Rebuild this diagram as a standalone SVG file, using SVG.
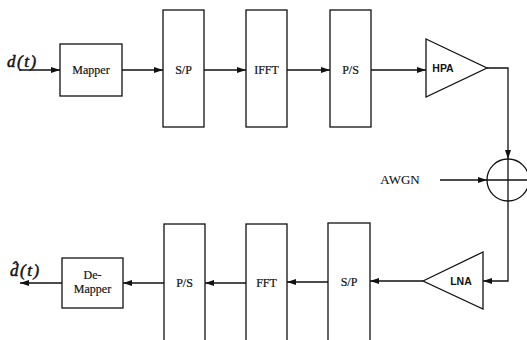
<svg xmlns="http://www.w3.org/2000/svg" width="527" height="340" viewBox="0 0 527 340">
<style>
.box{fill:#fff;stroke:#111;stroke-width:1.3}
.ln{fill:none;stroke:#111;stroke-width:1.3}
.t{font-family:"Liberation Serif","Times New Roman",serif;font-size:12px;fill:#111;stroke:#111;stroke-width:0.2;text-anchor:middle}
.s{font-family:"Liberation Sans",Arial,sans-serif;font-size:10.5px;font-weight:bold;fill:#111;text-anchor:middle}
.v{font-family:"Liberation Serif","Times New Roman",serif;font-size:17px;font-style:italic;fill:#111;stroke:#111;stroke-width:0.5;letter-spacing:1.5px}
</style>
<defs>
<marker id="ah" markerWidth="9" markerHeight="6" refX="9" refY="3" orient="auto" markerUnits="userSpaceOnUse">
<path d="M0,0 L9,3 L0,6 Z" fill="#111"/>
</marker>
</defs>
<rect width="527" height="340" fill="#fff"/>
<g id="connectors">
<line class="ln" x1="19" y1="70" x2="60" y2="70" marker-end="url(#ah)"/>
<line class="ln" x1="122" y1="70" x2="163" y2="70" marker-end="url(#ah)"/>
<line class="ln" x1="204" y1="70" x2="246" y2="70" marker-end="url(#ah)"/>
<line class="ln" x1="287" y1="70" x2="330" y2="70" marker-end="url(#ah)"/>
<line class="ln" x1="371" y1="70" x2="426" y2="70" marker-end="url(#ah)"/>
<polyline class="ln" points="487,68 508,68 508,159" marker-end="url(#ah)"/>
<line class="ln" x1="440" y1="180" x2="487" y2="180" marker-end="url(#ah)"/>
<polyline class="ln" points="508,201 508,281 483,281" marker-end="url(#ah)"/>
<line class="ln" x1="423" y1="281" x2="370" y2="281" marker-end="url(#ah)"/>
<line class="ln" x1="328" y1="282" x2="287" y2="282" marker-end="url(#ah)"/>
<line class="ln" x1="246" y1="283" x2="205" y2="283" marker-end="url(#ah)"/>
<line class="ln" x1="164" y1="283" x2="123" y2="283" marker-end="url(#ah)"/>
<line class="ln" x1="62" y1="283" x2="20" y2="283" marker-end="url(#ah)"/>
</g>
<text class="v" x="7" y="67">d(t)</text>
<text class="v" x="10" y="276">d̂(t)</text>
<g id="mapper"><rect class="box" x="60" y="44" width="62" height="52"/><text class="t" x="91" y="74">Mapper</text></g>
<g id="sp1"><rect class="box" x="163" y="10" width="41" height="117"/><text class="t" x="183.5" y="74">S/P</text></g>
<g id="ifft"><rect class="box" x="246" y="10" width="41" height="117"/><text class="t" x="266.5" y="74">IFFT</text></g>
<g id="ps1"><rect class="box" x="330" y="10" width="41" height="117"/><text class="t" x="350.5" y="74">P/S</text></g>
<g id="hpa"><polygon class="box" points="426,39 487,68 426,97"/><text class="s" x="443" y="72">HPA</text></g>
<g id="adder"><circle class="box" cx="508" cy="180" r="21"/><line class="ln" x1="487" y1="180" x2="529" y2="180"/><line class="ln" x1="508" y1="159" x2="508" y2="201"/></g>
<text class="t" x="400" y="184" style="font-size:13px;stroke-width:0.1">AWGN</text>
<g id="lna"><polygon class="box" points="423,281 483,252 483,309"/><text class="s" x="461" y="285">LNA</text></g>
<g id="sp2"><rect class="box" x="328" y="223" width="42" height="130"/><text class="t" x="349" y="286">S/P</text></g>
<g id="fft"><rect class="box" x="246" y="224" width="41" height="130"/><text class="t" x="266.5" y="287">FFT</text></g>
<g id="ps2"><rect class="box" x="164" y="224" width="41" height="130"/><text class="t" x="184.5" y="287">P/S</text></g>
<g id="demapper"><rect class="box" x="62" y="258" width="61" height="50"/><text class="t" x="92.5" y="279">De-</text><text class="t" x="92.5" y="293">Mapper</text></g>
</svg>
